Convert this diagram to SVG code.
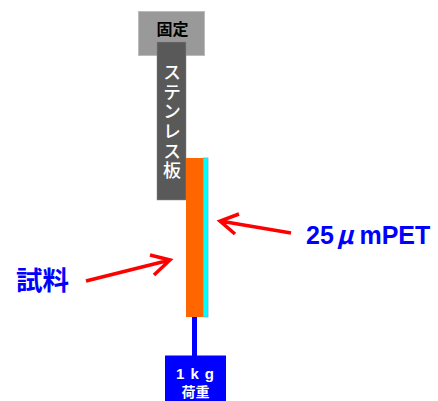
<svg xmlns="http://www.w3.org/2000/svg" width="438" height="401" viewBox="0 0 438 401">
<style>
.j{font-family:"Noto Sans CJK JP","Liberation Sans",sans-serif;font-weight:700}
.b{fill:#0000ff}
.w{fill:#fff;text-anchor:middle}
.a{fill:none;stroke:#ff0000;stroke-width:3.5}
</style>
<rect width="438" height="401" fill="#fff"/>
<g id="fixed"><rect x="138.500" y="11.500" width="66" height="44" fill="#999" stroke="#bbb"/>
<text class="j" x="172.500" y="35" font-size="16" text-anchor="middle" fill="#000">固定</text></g>
<g id="plate"><rect x="157" y="42" width="29" height="158" fill="#595959" stroke="#888" stroke-width="0.500"/>
<text x="172" y="63" fill="#fff" font-family="Noto Sans CJK JP,sans-serif" font-size="18" font-weight="500" letter-spacing="1.700" style="writing-mode:vertical-rl">ステンレス板</text></g>
<g id="weight-line"><rect x="192" y="317" width="5" height="40" fill="#0000ff"/></g>
<g id="sample"><rect x="186" y="158" width="17.500" height="159" fill="#ff6600"/></g>
<g id="pet"><rect x="203.500" y="158" width="4.500" height="159" fill="#00ffff" stroke="#66b3cc" stroke-width="0.800"/></g>
<g id="weight"><rect x="165" y="355.500" width="61" height="46" fill="#0000ff"/>
<text class="w" x="198" y="378.500" font-family="Liberation Sans,sans-serif" font-weight="700" font-size="15" letter-spacing="6">1kg</text>
<text class="j w" x="195.500" y="396.500" font-size="14">荷重</text></g>
<g id="connectors">
<path class="a" d="M86 281L170 260M150 255L170 260L154 275"/>
<path class="a" d="M291 233L220 221M239 214L220 221L235 234"/>
</g>
<g id="labels">
<text class="j b" x="16" y="290" font-size="26.500">試料</text>
<text class="b" x="306" y="244" font-family="Liberation Sans,sans-serif" font-weight="700" font-size="25">25<tspan font-family="Noto Sans CJK JP,sans-serif" font-style="italic" dx="3">μ</tspan><tspan dx="6">mPET</tspan></text>
</g>
</svg>
